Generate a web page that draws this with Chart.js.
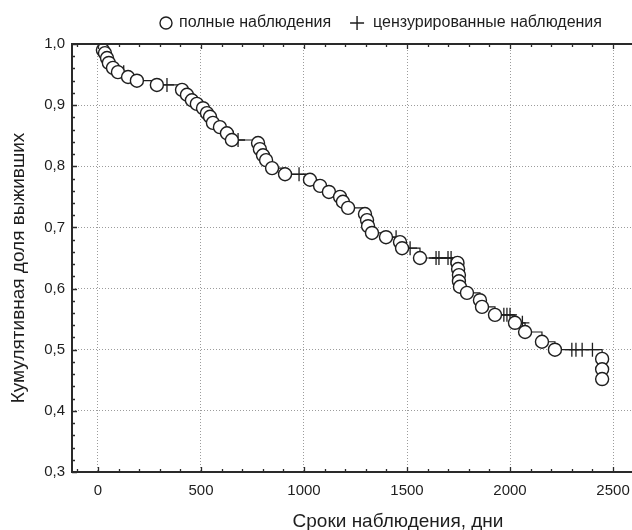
<!DOCTYPE html>
<html>
<head>
<meta charset="utf-8">
<script src="https://cdn.jsdelivr.net/npm/chart.js@4/dist/chart.umd.min.js"></script>
<style>
  html, body { margin: 0; padding: 0; background: #fff; }
  #wrap { position: relative; width: 632px; height: 530px; }
</style>
</head>
<body>
<div id="wrap"><canvas id="km" width="632" height="530"></canvas></div>
<script>
// Kaplan–Meier survival: complete (event) observations
const eventDays = [24, 34, 44, 53, 73, 97, 146, 189, 286, 408, 432, 456, 480, 510, 529, 544, 558, 592, 626, 650,
  777, 786, 801, 816, 845, 908, 1029, 1078, 1121, 1175, 1189, 1214, 1296, 1306, 1311, 1330, 1398, 1466, 1476,
  1563, 1745, 1748, 1752, 1752, 1757, 1791, 1854, 1864, 1927, 2024, 2073, 2155, 2218, 2447, 2447, 2447];
const eventSurvival = [0.990, 0.985, 0.977, 0.969, 0.961, 0.954, 0.946, 0.940, 0.933, 0.925, 0.917, 0.908, 0.902,
  0.895, 0.887, 0.881, 0.871, 0.864, 0.854, 0.843, 0.838, 0.828, 0.818, 0.810, 0.797, 0.787, 0.778, 0.768, 0.758,
  0.750, 0.742, 0.732, 0.722, 0.712, 0.702, 0.691, 0.684, 0.676, 0.666, 0.650, 0.642, 0.632, 0.622, 0.612, 0.603,
  0.593, 0.581, 0.570, 0.557, 0.544, 0.529, 0.513, 0.500, 0.485, 0.468, 0.452];

// Censored observations
const censoredDays = [125, 335, 680, 976, 1447, 1515, 1641, 1655, 1699, 1714, 1970, 1985, 2000, 2060, 2300, 2320, 2350, 2400];
const censoredSurvival = [0.954, 0.933, 0.843, 0.787, 0.684, 0.666, 0.650, 0.650, 0.650, 0.650, 0.557, 0.557, 0.557,
  0.544, 0.500, 0.500, 0.500, 0.500];

// Axis ticks and texts
const xTickValues = [0, 500, 1000, 1500, 2000, 2500];
const yTickValues = [0.3, 0.4, 0.5, 0.6, 0.7, 0.8, 0.9, 1.0];
const legendLabels = ['полные наблюдения', 'цензурированные наблюдения'];
const xTitle = 'Сроки наблюдения, дни';
const yTitle = 'Кумулятивная доля выживших';

const FONT = '"Liberation Sans", Arial, sans-serif';
const INK = '#1e1e1e';

// Step curve through every observation, starting at S(0) = 1
const curvePoints = [{ x: 0, y: 1.0 }]
  .concat(eventDays.map((d, i) => ({ x: d, y: eventSurvival[i], k: 0 })))
  .concat(censoredDays.map((d, i) => ({ x: d, y: censoredSurvival[i], k: 1 })))
  .sort((a, b) => a.x - b.x || b.y - a.y || a.k - b.k)
  .map(p => ({ x: p.x, y: p.y }));

// Frame with inward ticks, axis titles and the legend row
const framePlugin = {
  id: 'frame',
  afterDatasetsDraw(chart) {
    const { ctx, chartArea: a, scales: { x, y } } = chart;
    ctx.save();
    ctx.strokeStyle = '#2a2a2a';
    ctx.lineWidth = 1.3;
    ctx.beginPath();
    for (let v = -100; v <= x.max; v += 100) {
      const px = Math.round(x.getPixelForValue(v)) + 0.5;
      const len = v % 500 === 0 ? 5 : 3;
      ctx.moveTo(px, a.bottom); ctx.lineTo(px, a.bottom - len);
      ctx.moveTo(px, a.top); ctx.lineTo(px, a.top + len);
    }
    for (let k = 15; k <= 50; k++) {
      const v = k / 50;
      const py = Math.round(y.getPixelForValue(v)) + 0.5;
      const len = k % 5 === 0 ? 5 : 3;
      ctx.moveTo(a.left, py); ctx.lineTo(a.left + len, py);
    }
    ctx.stroke();
    ctx.lineWidth = 2;
    ctx.beginPath();
    ctx.moveTo(a.right + 2, a.top); ctx.lineTo(a.left, a.top);
    ctx.lineTo(a.left, a.bottom); ctx.lineTo(a.right + 2, a.bottom);
    ctx.stroke();
    ctx.restore();
  },
  afterDraw(chart) {
    const { ctx } = chart;
    ctx.save();
    ctx.fillStyle = INK;
    ctx.strokeStyle = INK;
    ctx.textBaseline = 'middle';

    // axis titles
    ctx.font = '19px ' + FONT;
    ctx.textAlign = 'center';
    ctx.fillText(xTitle, 398, 522);
    ctx.save();
    ctx.translate(19, 268);
    ctx.rotate(-Math.PI / 2);
    ctx.fillText(yTitle, 0, 0);
    ctx.restore();

    // legend
    ctx.textAlign = 'left';
    ctx.font = '16px ' + FONT;
    const cy = 23;
    ctx.lineWidth = 1.4;
    ctx.beginPath();
    ctx.arc(166, cy, 6, 0, Math.PI * 2);
    ctx.fillStyle = '#fff';
    ctx.fill();
    ctx.stroke();
    ctx.fillStyle = INK;
    const t0 = 179;
    ctx.fillText(legendLabels[0], t0, cy);
    const px = t0 + ctx.measureText(legendLabels[0]).width + 26;
    ctx.beginPath();
    ctx.moveTo(px - 7, cy); ctx.lineTo(px + 7, cy);
    ctx.moveTo(px, cy - 7); ctx.lineTo(px, cy + 7);
    ctx.stroke();
    ctx.fillText(legendLabels[1], px + 16, cy);
    ctx.restore();
  }
};

new Chart(document.getElementById('km'), {
  type: 'scatter',
  data: {
    datasets: [
      {
        label: legendLabels[0],
        data: eventDays.map((d, i) => ({ x: d, y: eventSurvival[i] })),
        pointStyle: 'circle',
        pointRadius: 6.5,
        pointBackgroundColor: '#fff',
        pointBorderColor: INK,
        pointBorderWidth: 1.4,
        clip: false
      },
      {
        label: legendLabels[1],
        data: censoredDays.map((d, i) => ({ x: d, y: censoredSurvival[i] })),
        pointStyle: 'cross',
        pointRadius: 7,
        pointBorderColor: INK,
        pointBorderWidth: 1.3,
        clip: false
      },
      {
        label: 'curve',
        data: curvePoints,
        showLine: true,
        stepped: 'before',
        borderColor: INK,
        borderWidth: 1.2,
        pointRadius: 0,
        clip: false
      }
    ]
  },
  options: {
    responsive: false,
    animation: false,
    devicePixelRatio: 1,
    layout: { autoPadding: false, padding: { top: 44, right: 0, left: 0, bottom: 0 } },
    plugins: { legend: { display: false }, tooltip: { enabled: false } },
    scales: {
      x: {
        type: 'linear',
        min: -126,
        max: 2592,
        afterBuildTicks: s => { s.ticks = xTickValues.map(v => ({ value: v })); },
        afterFit: s => { s.height = 58; s.paddingLeft = 0; s.paddingRight = 0; },
        grid: { color: '#9c9c9c', lineWidth: 1, drawTicks: false },
        border: { display: false, dash: [1, 2] },
        ticks: { color: INK, padding: 10, font: { family: FONT, size: 15 }, callback: v => String(v) },
        title: { display: false }
      },
      y: {
        type: 'linear',
        min: 0.3,
        max: 1.0,
        afterBuildTicks: s => { s.ticks = yTickValues.map(v => ({ value: v })); },
        afterFit: s => { s.width = 72; s.paddingTop = 0; s.paddingBottom = 0; },
        grid: { color: '#9c9c9c', lineWidth: 1, drawTicks: false },
        border: { display: false, dash: [1, 2] },
        ticks: { color: INK, padding: 7, font: { family: FONT, size: 15 }, callback: v => v.toFixed(1).replace('.', ',') },
        title: { display: false }
      }
    }
  },
  plugins: [framePlugin]
});
</script>
</body>
</html>
